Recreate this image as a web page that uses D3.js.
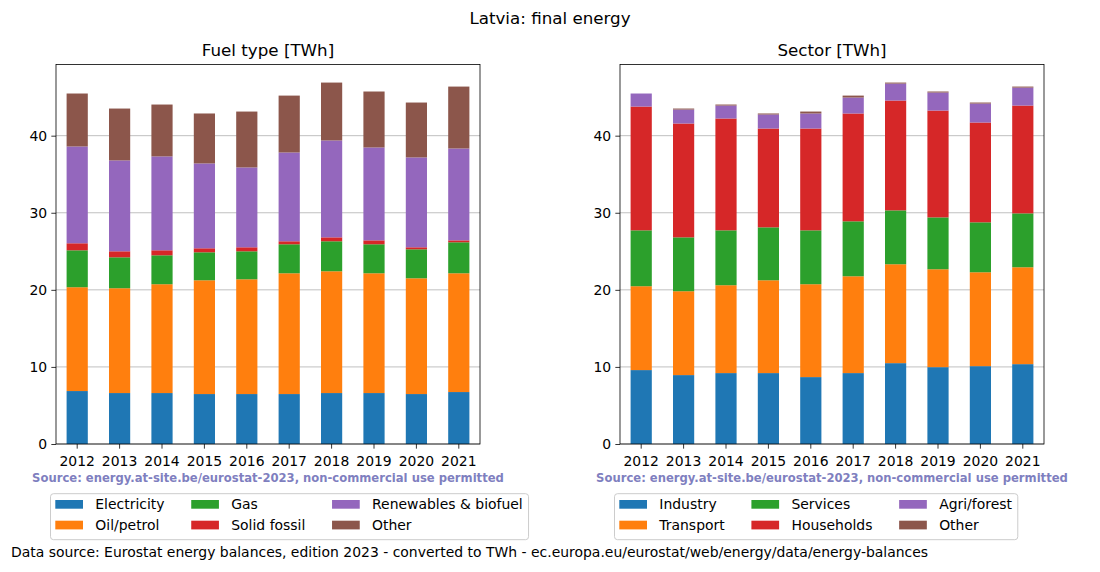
<!DOCTYPE html>
<html><head><meta charset="utf-8">
<script src="https://cdn.jsdelivr.net/npm/d3@7"></script>
<style>body{margin:0;background:#fff}svg{font-family:"DejaVu Sans",sans-serif}</style>
</head><body>
<svg id="c" width="1100" height="572"></svg>
<script>
const years = ["2012","2013","2014","2015","2016","2017","2018","2019","2020","2021"];
const fuelNames = ["Electricity","Oil/petrol","Gas","Solid fossil","Renewables & biofuel","Other"];
const fuelElectricity = [6.87,6.61,6.61,6.48,6.48,6.48,6.61,6.61,6.48,6.74];
const fuelOil = [13.47,13.60,14.12,14.76,14.89,15.67,15.80,15.54,15.02,15.41];
const fuelGas = [4.79,4.01,3.75,3.63,3.63,3.76,3.89,3.76,3.76,4.02];
const fuelSolid = [0.91,0.78,0.65,0.52,0.52,0.39,0.51,0.51,0.26,0.25];
const fuelRenew = [12.56,11.79,12.18,11.01,10.36,11.52,12.57,12.05,11.66,11.92];
const fuelOther = [6.87,6.73,6.73,6.48,7.25,7.38,7.51,7.26,7.12,8.03];
const sectorNames = ["Industry","Transport","Services","Households","Agri/forest","Other"];
const secIndustry = [9.59,8.94,9.20,9.20,8.68,9.20,10.49,9.97,10.10,10.36];
const secTransport = [10.88,10.88,11.40,12.04,12.05,12.56,12.83,12.70,12.18,12.57];
const secServices = [7.25,6.99,7.12,6.87,6.99,7.13,6.99,6.73,6.48,6.99];
const secHouseholds = [16.06,14.77,14.51,12.82,13.21,13.99,14.25,13.86,12.95,13.99];
const secAgri = [1.69,1.81,1.68,1.82,1.95,2.07,2.20,2.34,2.46,2.33];
const secOther = [0.0,0.13,0.13,0.13,0.25,0.25,0.13,0.13,0.13,0.13];
const yTicks = [0,10,20,30,40];
const colors = ["#1f77b4","#ff7f0e","#2ca02c","#d62728","#9467bd","#8c564b"];

const svg = d3.select("#c");
const FS = 13.95;
const TS = 16.7;

svg.append("text").attr("x",550).attr("y",24).attr("text-anchor","middle")
  .attr("font-size",TS).text("Latvia: final energy");

function panel(x0, title, names, series, legendX){
  const top=64.5, bottom=444, left=x0, right=x0+424;
  const totals = years.map((_,i)=>d3.sum(series,s=>s[i]));
  const x = d3.scaleBand().domain(years).range([left,right]).paddingInner(0.5).paddingOuter(0.25);
  const y = d3.scaleLinear().domain([0, d3.max(totals)*1.05]).range([bottom, top]);
  const g = svg.append("g");
  g.append("g").selectAll("line").data(yTicks).join("line")
    .attr("x1",left).attr("x2",right).attr("y1",d=>y(d)).attr("y2",d=>y(d))
    .attr("stroke","#b0b0b0").attr("stroke-width",0.8);
  const rows = years.map((yr,i)=>{const o={year:yr}; names.forEach((n,k)=>o[n]=series[k][i]); return o;});
  const stack = d3.stack().keys(names)(rows);
  g.append("g").selectAll("g").data(stack).join("g").attr("fill",(d,i)=>colors[i])
    .selectAll("rect").data(d=>d).join("rect")
    .attr("x",d=>x(d.data.year)).attr("width",x.bandwidth())
    .attr("y",d=>y(d[1])).attr("height",d=>Math.max(0,y(d[0])-y(d[1])));
  const ax = d3.axisBottom(x).tickSize(4.67).tickPadding(7);
  const ag = g.append("g").attr("transform",`translate(0,${bottom})`).call(ax);
  const ay = d3.axisLeft(y).tickValues(yTicks).tickSize(4.67).tickPadding(4.2);
  const ayg = g.append("g").attr("transform",`translate(${left},0)`).call(ay);
  [ag,ayg].forEach(a=>{a.select(".domain").remove();
    a.selectAll("line").attr("stroke","#000").attr("stroke-width",0.8);
    a.selectAll("text").attr("font-size",FS).attr("font-family","DejaVu Sans").attr("fill","#000");});
  g.append("rect").attr("x",left).attr("y",top).attr("width",right-left).attr("height",bottom-top)
    .attr("fill","none").attr("stroke","#000").attr("stroke-width",0.8);
  g.append("text").attr("x",(left+right)/2).attr("y",56).attr("text-anchor","middle")
    .attr("font-size",TS).text(title);
  g.append("text").attr("x",(left+right)/2).attr("y",482).attr("text-anchor","middle")
    .attr("font-size",11.6).attr("font-weight","bold").attr("fill","#7f7fbf")
    .text("Source: energy.at-site.be/eurostat-2023, non-commercial use permitted");
  const lg = svg.append("g");
  const box = lg.append("rect").attr("y",493.7).attr("height",46).attr("rx",3)
    .attr("fill","#fff").attr("fill-opacity",0.8).attr("stroke","#cccccc").attr("stroke-width",1);
  let cx = legendX + 5.3;
  for(let c=0;c<3;c++){
    let maxW=0;
    for(let r=0;r<2;r++){
      const k=c*2+r;
      const yy = r===0?500:520.7;
      lg.append("rect").attr("x",cx).attr("y",yy).attr("width",27.7).attr("height",8.7).attr("fill",colors[k]);
      const t = lg.append("text").attr("x",cx+40).attr("y",yy+8.9).attr("font-size",FS).text(names[k]);
      maxW=Math.max(maxW,t.node().getComputedTextLength());
    }
    cx += 40 + maxW + (c<2?26.7:0);
  }
  box.attr("x",legendX+0.5).attr("width",cx+5.3-legendX);
}
panel(56,"Fuel type [TWh]",fuelNames,[fuelElectricity,fuelOil,fuelGas,fuelSolid,fuelRenew,fuelOther],50);
panel(620,"Sector [TWh]",sectorNames,[secIndustry,secTransport,secServices,secHouseholds,secAgri,secOther],614);

svg.append("text").attr("x",11).attr("y",557).attr("font-size",FS)
  .text("Data source: Eurostat energy balances, edition 2023 - converted to TWh - ec.europa.eu/eurostat/web/energy/data/energy-balances");
</script>
</body></html>
